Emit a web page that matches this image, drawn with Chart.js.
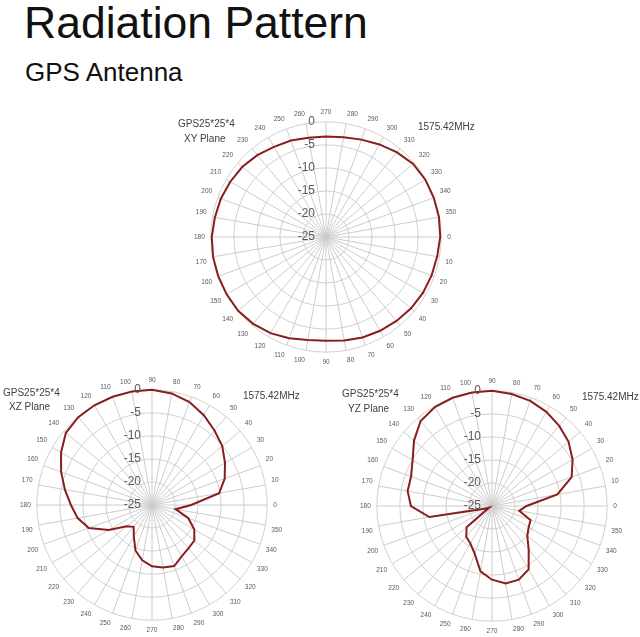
<!DOCTYPE html>
<html>
<head>
<meta charset="utf-8">
<script src="https://cdn.jsdelivr.net/npm/chart.js@4.4.1/dist/chart.umd.min.js"></script>
<style>
  body { margin: 0; background: #fff; font-family: "Liberation Sans", Arial, sans-serif; }
  #page { position: relative; width: 640px; height: 637px; overflow: hidden; }
  h1, h2 { position: absolute; margin: 0; font-weight: normal; color: #111; white-space: nowrap; }
  h1 { left: 24px; top: 1px; font-size: 44.5px; line-height: 44px; }
  h2 { left: 25px; top: 59px; font-size: 26px; line-height: 26px; }
  canvas { position: absolute; }
  .note { position: absolute; font-size: 10px; line-height: 10px; color: #404040; white-space: nowrap; z-index: 2; }
</style>
</head>
<body>
<div id="page">
  <h1>Radiation Pattern</h1>
  <h2>GPS Antenna</h2>

  <canvas id="xyChart" width="265" height="265" style="left:193px; top:105px"></canvas>
  <canvas id="xzChart" width="265" height="265" style="left:19px; top:373px"></canvas>
  <canvas id="yzChart" width="265" height="265" style="left:359px; top:374px"></canvas>

  <div class="note" style="left:178px; top:119px">GPS25*25*4</div>
  <div class="note" style="left:184px; top:134px">XY Plane</div>
  <div class="note" style="left:418px; top:122px">1575.42MHz</div>

  <div class="note" style="left:3px; top:388px">GPS25*25*4</div>
  <div class="note" style="left:9px; top:402px">XZ Plane</div>
  <div class="note" style="left:243px; top:391px">1575.42MHz</div>

  <div class="note" style="left:342px; top:389px">GPS25*25*4</div>
  <div class="note" style="left:348px; top:404px">YZ Plane</div>
  <div class="note" style="left:582px; top:392px">1575.42MHz</div>
</div>

<script>
// gain axis (dB), outer ring is 0, centre is -25
const gainTicks = [0, -5, -10, -15, -20, -25];

// XY plane, angles run clockwise starting from 270 at the top
const xyAngles = [270, 280, 290, 300, 310, 320, 330, 340, 350, 0, 10, 20, 30, 40, 50, 60, 70, 80,
                  90, 100, 110, 120, 130, 140, 150, 160, 170, 180, 190, 200, 210, 220, 230, 240, 250, 260];
const xyGain = [-3.2, -3.0, -2.5, -1.8, -1.0, -0.3, -0.1, -0.1, -0.1, -0.2, -0.5, -0.6, -0.7, -0.9, -1.2, -1.5, -1.8, -2.2,
                -2.5, -2.3, -1.6, -0.9, -0.4, -0.1, -0.1, -0.1, -0.1, -0.2, -0.5, -0.7, -1.0, -1.3, -1.8, -2.4, -2.7, -3.1];

// XZ and YZ planes, angles run counter-clockwise with 90 at the top
const xzAngles = [90, 80, 70, 60, 50, 40, 30, 20, 10, 0, 350, 340, 330, 320, 310, 300, 290, 280,
                  270, 260, 250, 240, 230, 220, 210, 200, 190, 180, 170, 160, 150, 140, 130, 120, 110, 100];
const xzGain = [0, -0.4, -1.2, -2.5, -3.9, -5.1, -6.7, -8.2, -10.2, -16.5, -19.8, -16.6, -14.4, -13.0, -12.7, -12.1, -10.9, -11.2,
                -11.7, -12.8, -14.5, -17.1, -18.8, -17.8, -14.2, -10.4, -8.6, -7.4, -5.8, -4.0, -2.2, -0.6, -0.1, 0, 0, 0];

const yzAngles = xzAngles;
const yzGain = [0, -0.3, -0.7, -1.4, -2.3, -3.3, -4.8, -6.6, -10.6, -17.5, -19.0, -16.1, -15.8, -15.0, -12.6, -9.1, -8.0, -7.9,
                -9.0, -10.6, -14.0, -15.6, -16.3, -17.8, -24.3, -23.3, -11.2, -7.4, -6.4, -6.3, -5.1, -2.9, -0.9, -0.2, 0, 0];

// draws the dB labels just left of the vertical spoke, like the Excel original
const gainLabels = {
  id: "gainLabels",
  afterDatasetsDraw(chart) {
    const r = chart.scales.r;
    const ctx = chart.ctx;
    ctx.save();
    ctx.font = '12px "Liberation Sans"';
    ctx.fillStyle = "#595959";
    ctx.textAlign = "right";
    ctx.textBaseline = "middle";
    gainTicks.forEach(v => {
      const p = r.getPointPositionForValue(0, v);
      ctx.fillText(String(v), p.x - 11, p.y);
    });
    ctx.restore();
  }
};

function drawPolar(id, angles, gain) {
  const ctx = document.getElementById(id).getContext("2d");
  return new Chart(ctx, {
    type: "radar",
    data: {
      labels: angles.map(String),
      datasets: [{
        data: gain,
        borderColor: "#8a1d1d",
        borderWidth: 2,
        pointRadius: 0,
        fill: false
      }]
    },
    options: {
      responsive: false,
      animation: false,
      layout: { padding: 0 },
      plugins: { legend: { display: false }, tooltip: { enabled: false } },
      scales: {
        r: {
          min: -25,
          max: 0,
          ticks: { stepSize: 5, display: false },
          grid: { color: "#d0d0d0", circular: true },
          angleLines: { color: "#cccccc" },
          pointLabels: {
            font: { size: 6.5, family: "Liberation Sans" },
            color: "#595959",
            padding: 6
          }
        }
      }
    },
    plugins: [gainLabels]
  });
}

drawPolar("xyChart", xyAngles, xyGain);
drawPolar("xzChart", xzAngles, xzGain);
drawPolar("yzChart", yzAngles, yzGain);
</script>
</body>
</html>
